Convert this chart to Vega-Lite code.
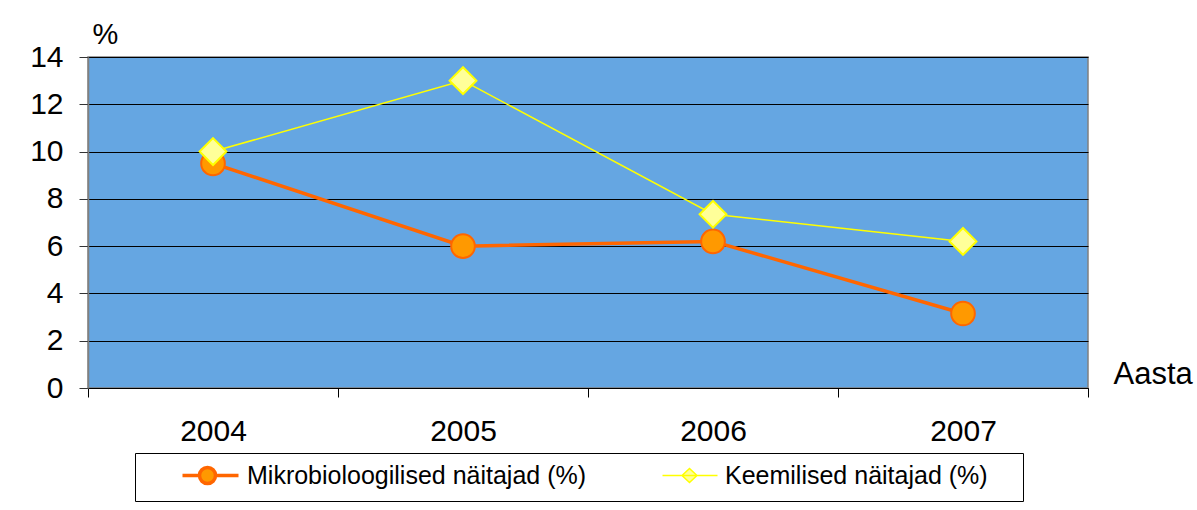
{
  "$schema": "https://vega.github.io/schema/vega-lite/v6.json",
  "width": 1000,
  "height": 331,
  "autosize": {"type": "none"},
  "padding": {"left": 88, "top": 57, "right": 109, "bottom": 122},
  "background": "white",
  "config": {
    "view": {"fill": "#65A6E2", "stroke": "#808080", "strokeWidth": 1.5},
    "font": "Liberation Sans",
    "axis": {"labelFont": "Liberation Sans", "titleFont": "Liberation Sans", "labelColor": "black", "titleColor": "black", "titleFontWeight": "normal"}
  },
  "data": {
    "values": [
      {"year": "2004", "series": "Mikrobioloogilised näitajad (%)", "value": 9.5},
      {"year": "2005", "series": "Mikrobioloogilised näitajad (%)", "value": 6.0},
      {"year": "2006", "series": "Mikrobioloogilised näitajad (%)", "value": 6.2},
      {"year": "2007", "series": "Mikrobioloogilised näitajad (%)", "value": 3.15},
      {"year": "2004", "series": "Keemilised näitajad (%)", "value": 10.0},
      {"year": "2005", "series": "Keemilised näitajad (%)", "value": 13.0},
      {"year": "2006", "series": "Keemilised näitajad (%)", "value": 7.35},
      {"year": "2007", "series": "Keemilised näitajad (%)", "value": 6.2}
    ]
  },
  "layer": [
    {
      "mark": {"type": "line"},
      "encoding": {
        "x": {
          "field": "year", "type": "ordinal",
          "scale": {"type": "band", "paddingInner": 0, "paddingOuter": 0},
          "axis": {"title": "Aasta", "labelAngle": 0, "tickBand": "extent", "domainColor": "black", "domainWidth": 1, "tickColor": "black", "tickSize": 9, "labelFontSize": 30, "labelPadding": 19, "titleX": 1025, "titleY": -5, "titleAlign": "left", "titleBaseline": "alphabetic", "titleFontSize": 31, "titleFontWeight": "normal", "grid": false}
        },
        "y": {
          "field": "value", "type": "quantitative",
          "scale": {"domain": [0, 14]},
          "axis": {"values": [0, 2, 4, 6, 8, 10, 12, 14], "grid": true, "gridColor": "black", "gridWidth": 1, "gridOpacity": 1, "domainColor": "#808080", "domainWidth": 1.5, "tickColor": "#333333", "tickSize": 9, "labelFontSize": 30, "labelPadding": 16, "title": "%", "titleAngle": 0, "titleX": 4, "titleY": -14, "titleAlign": "left", "titleBaseline": "alphabetic", "titleFontSize": 29, "titleFontWeight": "normal"}
        },
        "stroke": {
          "field": "series", "type": "nominal",
          "scale": {"domain": ["Mikrobioloogilised näitajad (%)", "Keemilised näitajad (%)"], "range": ["#FF6600", "#FFFF00"]},
          "legend": {
            "orient": "none", "legendX": 47, "legendY": 396, "direction": "horizontal", "title": null,
            "values": ["Mikrobioloogilised näitajad (%)"],
            "padding": 10, "strokeColor": "black",
            "labelFont": "Liberation Sans", "labelFontSize": 25, "labelColor": "black", "labelLimit": 1000,
            "labelOffset": 77, "symbolSize": 400, "symbolStrokeWidth": 3,
            "symbolType": "M2.5,0H4.2A0.8,0.8 0 0,1 5.8,0H8.1M5.8,0A0.8,0.8 0 0,1 4.2,0M84.8,0",
            "symbolFillColor": "#FF9900", "symbolStrokeColor": "#FF6600", "symbolOpacity": 1
          }
        },
        "strokeWidth": {
          "field": "series", "type": "ordinal",
          "scale": {"domain": ["Mikrobioloogilised näitajad (%)", "Keemilised näitajad (%)"], "range": [3.5, 1.5]},
          "legend": null
        }
      }
    },
    {
      "transform": [{"filter": "datum.series === 'Mikrobioloogilised näitajad (%)'"}],
      "mark": {"type": "point", "filled": true, "opacity": 1, "shape": "circle", "size": 560, "fill": "#FF9900", "stroke": "#FF6600", "strokeWidth": 2},
      "encoding": {
        "x": {"field": "year", "type": "ordinal"},
        "y": {"field": "value", "type": "quantitative"}
      }
    },
    {
      "transform": [{"filter": "datum.series === 'Keemilised näitajad (%)'"}],
      "mark": {"type": "point", "filled": true, "opacity": 1, "shape": "diamond", "size": 720, "stroke": "#FFFF00", "strokeWidth": 2},
      "encoding": {
        "x": {"field": "year", "type": "ordinal"},
        "y": {"field": "value", "type": "quantitative"},
        "fill": {
          "field": "series", "type": "nominal",
          "scale": {"domain": ["Keemilised näitajad (%)"], "range": ["#FFFF99"]},
          "legend": {
            "orient": "none", "legendX": 528, "legendY": 396, "direction": "horizontal", "title": null,
            "padding": 10,
            "labelFont": "Liberation Sans", "labelFontSize": 25, "labelColor": "black", "labelLimit": 1000,
            "labelOffset": 74, "symbolSize": 400, "symbolStrokeWidth": 1.5,
            "symbolType": "M2.4,0H4.35L5.1,-0.7L5.85,0H7.9M5.85,0L5.1,0.7L4.35,0Z",
            "symbolStrokeColor": "#FFFF00", "symbolOpacity": 1
          }
        }
      }
    }
  ]
}
